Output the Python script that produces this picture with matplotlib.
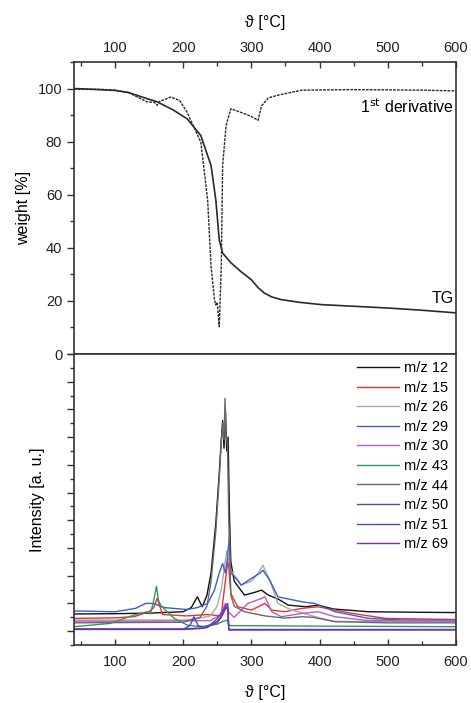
import numpy as np
import matplotlib
matplotlib.use("Agg")
import matplotlib.pyplot as plt
from matplotlib.ticker import MultipleLocator

plt.rcParams['font.family'] = ['Liberation Sans', 'DejaVu Sans']

# --- TG data (weight %) ---
tg_T = [40, 60, 100, 120, 140, 162, 185, 206, 226, 241, 248, 253, 258, 270, 285,
        300, 310, 319, 330, 344, 370, 403, 450, 502, 550, 600]
tg_w = [100, 99.8, 99.3, 98.5, 96.8, 95, 92, 88.6, 82.3, 71, 58, 43, 38, 34.4, 31,
        28, 25, 23, 21.5, 20.5, 19.5, 18.6, 18, 17.3, 16.5, 15.5]

# --- 1st derivative (scaled onto weight axis) ---
dtg_T = [40, 80, 100, 120, 147, 158, 162, 166, 182, 195, 206, 226, 236, 241, 246,
         248, 250, 253, 256, 258, 263, 270, 285, 300, 310, 315, 325, 339, 374, 450, 550, 600]
dtg_w = [99.7, 99.7, 99.4, 98.5, 95, 94.8, 93.7, 95.2, 96.8, 95.5, 91, 79.8, 58, 33, 20.5,
         18.5, 19.5, 10.3, 33, 71, 86, 92.4, 91, 89.5, 88, 93.5, 96.5, 97.5, 99.4, 99.6, 99.4, 99.1]

# --- MS ion currents (a. u.) ---
ms_labels = ['m/z 12', 'm/z 15', 'm/z 26', 'm/z 29', 'm/z 30',
             'm/z 43', 'm/z 44', 'm/z 50', 'm/z 51', 'm/z 69']
ms_colors = ['#111111', '#f03030', '#a8a8a8', '#3a5fc8', '#b060c8',
             '#2e9a5a', '#6a6a6a', '#505088', '#4848d0', '#7a30b0']

mz12_T = [40, 100, 150, 200, 212, 221, 228, 235, 241, 248, 253, 256, 258, 260, 262, 264,
          266, 268, 270, 275, 290, 305, 315, 325, 340, 354, 380, 398, 420, 472, 550, 600]
mz12_v = [0.62, 0.63, 0.65, 0.7, 0.85, 1.24, 0.88, 1.3, 2.1, 3.9, 5.7, 6.9, 7.6, 6.6, 8.0, 6.5,
          7.0, 4.2, 2.5, 1.8, 1.3, 1.4, 1.48, 1.3, 1.15, 0.94, 0.88, 0.94, 0.8, 0.7, 0.68, 0.67]

mz15_T = [40, 100, 128, 150, 157, 162, 170, 206, 236, 256, 258, 262, 266, 270, 280, 300,
          315, 320, 330, 349, 374, 398, 448, 497, 600]
mz15_v = [0.46, 0.48, 0.52, 0.7, 0.85, 1.18, 0.6, 0.55, 0.6, 0.55, 1.0, 1.8, 2.62, 1.36, 0.88, 0.76,
          0.94, 1.0, 0.76, 0.7, 0.82, 0.88, 0.64, 0.46, 0.42]

mz26_T = [40, 150, 200, 220, 240, 250, 256, 260, 264, 266, 270, 285, 300, 310, 317, 327,
          339, 359, 403, 423, 500, 600]
mz26_v = [0.4, 0.4, 0.4, 0.45, 0.55, 0.9, 1.5, 2.2, 2.9, 2.6, 2.2, 1.66, 1.8, 2.08, 2.38, 1.84,
          1.0, 0.76, 0.46, 0.35, 0.35, 0.35]

mz29_T = [40, 100, 130, 145, 157, 172, 206, 221, 236, 246, 253, 258, 262, 265, 268, 270,
          280, 285, 300, 313, 317, 327, 339, 374, 393, 423, 472, 521, 600]
mz29_v = [0.73, 0.7, 0.82, 1.0, 1.0, 0.85, 0.78, 0.85, 1.0, 1.48, 2.1, 2.44, 2.1, 2.6, 3.47, 2.1,
          1.84, 1.66, 1.9, 2.1, 2.2, 1.84, 1.24, 1.06, 1.0, 0.7, 0.46, 0.4, 0.4]

mz30_T = [40, 150, 240, 255, 262, 266, 275, 295, 315, 320, 330, 344, 374, 398, 423, 472, 600]
mz30_v = [0.36, 0.36, 0.38, 0.6, 1.0, 0.7, 0.5, 1.0, 1.18, 1.24, 0.7, 0.52, 0.64, 0.7, 0.52, 0.38, 0.36]

mz43_T = [40, 93, 128, 147, 152, 156, 161, 164, 168, 187, 206, 226, 250, 258, 265, 267, 270, 400, 600]
mz43_v = [0.16, 0.28, 0.58, 0.7, 0.62, 1.0, 1.62, 1.1, 0.9, 0.46, 0.22, 0.16, 0.25, 0.35, 0.4, 0.22, 0.2, 0.18, 0.16]

mz44_T = [40, 200, 225, 235, 241, 248, 253, 256, 258, 260, 261.5, 263, 265, 267, 270, 275,
          290, 320, 349, 374, 390, 423, 500, 600]
mz44_v = [0.3, 0.32, 0.5, 0.9, 1.8, 3.6, 5.5, 6.8, 7.5, 6.9, 8.4, 7.0, 6.8, 4.0, 1.3, 0.9,
          0.7, 0.55, 0.47, 0.52, 0.5, 0.34, 0.3, 0.3]

mz50_T = [40, 200, 230, 250, 258, 263, 265.5, 267, 600]
mz50_v = [0.08, 0.08, 0.12, 0.35, 0.6, 0.85, 0.8, 0.06, 0.06]

mz51_T = [40, 200, 210, 216, 222, 235, 250, 258, 263, 265.5, 267, 600]
mz51_v = [0.07, 0.07, 0.2, 0.52, 0.2, 0.12, 0.45, 0.72, 0.95, 1.0, 0.05, 0.05]

mz69_T = [40, 200, 230, 250, 256, 262, 265.5, 267, 600]
mz69_v = [0.06, 0.06, 0.1, 0.3, 0.5, 0.85, 0.88, 0.05, 0.05]

ms_T = [mz12_T, mz15_T, mz26_T, mz29_T, mz30_T, mz43_T, mz44_T, mz50_T, mz51_T, mz69_T]
ms_v = [mz12_v, mz15_v, mz26_v, mz29_v, mz30_v, mz43_v, mz44_v, mz50_v, mz51_v, mz69_v]

fig = plt.figure(figsize=(4.71, 7.03), dpi=100)
ax1 = fig.add_axes([0.157, 0.4964, 0.811, 0.4154])
ax2 = fig.add_axes([0.157, 0.0825, 0.811, 0.4139])

spine_c = '#333333'
for ax in (ax1, ax2):
    for s in ax.spines.values():
        s.set_linewidth(1.2)
        s.set_color(spine_c)
    ax.set_xlim(40, 600)
    ax.xaxis.set_major_locator(MultipleLocator(100))
    ax.xaxis.set_minor_locator(MultipleLocator(50))
    ax.tick_params(axis='x', which='both', direction='in', colors=spine_c,
                   labelcolor='#222222', labelsize=10.5, pad=7)
    ax.tick_params(axis='x', which='major', length=4, width=1)
    ax.tick_params(axis='x', which='minor', length=3, width=1)
    ax.tick_params(axis='y', which='both', direction='out', colors=spine_c,
                   labelcolor='#222222', labelsize=10.5, width=1)
    ax.tick_params(axis='y', which='major', length=5)
    ax.tick_params(axis='y', which='minor', length=3)

# top panel
ax1.plot(tg_T, tg_w, color='#2a2a2a', lw=1.2)
ax1.plot(dtg_T, dtg_w, color='#2a2a2a', lw=1.0, ls=(0, (2, 0.8)))
ax1.set_ylim(0, 110)
ax1.yaxis.set_major_locator(MultipleLocator(20))
ax1.yaxis.set_minor_locator(MultipleLocator(10))
ax1.xaxis.tick_top()
ax1.xaxis.set_label_position('top')
ax1.tick_params(axis='x', pad=5)
ax1.set_xlabel('ϑ [°C]', fontsize=11.5, labelpad=10)
ax1.set_ylabel('weight [%]', fontsize=11.5, labelpad=5)
ax1.text(597, 93, r'1$^{\mathrm{st}}$ derivative', ha='right', va='center', fontsize=11.5)
ax1.text(597, 21, 'TG', ha='right', va='center', fontsize=11.5)

# bottom panel
for T, v, lab, c in zip(ms_T, ms_v, ms_labels, ms_colors):
    ax2.plot(T, v, color=c, lw=1.0, label=lab)
ax2.set_ylim(-0.5, 10)
ax2.yaxis.set_major_locator(MultipleLocator(1))
ax2.yaxis.set_minor_locator(MultipleLocator(0.5))
ax2.set_yticklabels([])
ax2.set_xlabel('ϑ [°C]', fontsize=11.5, labelpad=12)
ax2.set_ylabel('Intensity [a. u.]', fontsize=11.5, labelpad=12)
ax2.legend(loc='upper right', frameon=False, fontsize=10.5, labelspacing=0.38,
           handlelength=2.9, handletextpad=0.35, borderaxespad=0.0, borderpad=0.5)

fig.savefig('out.png', dpi=100)
